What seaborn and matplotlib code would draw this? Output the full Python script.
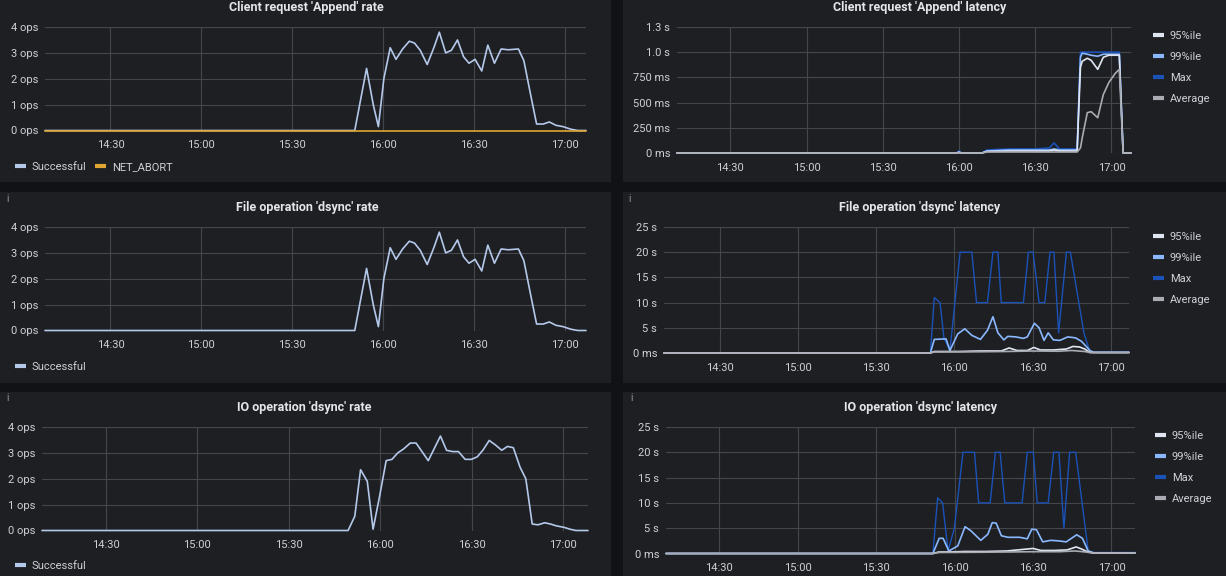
import matplotlib
matplotlib.use("Agg")
import matplotlib.pyplot as plt
from matplotlib.lines import Line2D
from matplotlib.patches import Rectangle
import seaborn as sns
import pandas as pd

# ---------------- data (time = minutes after 14:00) ----------------
tick_minutes = [30, 60, 90, 120, 150, 180]
tick_labels = ["14:30", "15:00", "15:30", "16:00", "16:30", "17:00"]

rate_ticks = [0, 1, 2, 3, 4]
rate_tick_labels = ["0 ops", "1 ops", "2 ops", "3 ops", "4 ops"]
append_lat_ticks = [0, 0.25, 0.5, 0.75, 1.0, 1.25]
append_lat_tick_labels = ["0 ms", "250 ms", "500 ms", "750 ms", "1.0 s", "1.3 s"]
dsync_lat_ticks = [0, 5, 10, 15, 20, 25]
dsync_lat_tick_labels = ["0 ms", "5 s", "10 s", "15 s", "20 s", "25 s"]

# Client request 'Append' rate / File operation 'dsync' rate (same shape)
rate_t = [8.4, 110.6, 114.5, 116.7, 118.4, 120.2, 122.3, 124.2, 126.4, 128.6, 130.3,
          132.2, 134.5, 136.7, 138.5, 140.6, 142.5, 144.5, 146.5, 148.3, 150.3, 152.5,
          154.5, 156.7, 158.9, 161.2, 164.6, 166.4, 168.6, 170.6, 172.8, 174.8, 177.0,
          179.3, 181.9, 184.2, 186.9]
rate_successful = [0, 0, 2.4, 1.0, 0.15, 2.0, 3.2, 2.75, 3.15, 3.45, 3.38,
                   3.1, 2.55, 3.2, 3.8, 3.0, 3.1, 3.5, 2.85, 2.6, 2.75, 2.3,
                   3.3, 2.6, 3.15, 3.12, 3.15, 2.7, 1.4, 0.25, 0.25, 0.33, 0.2,
                   0.15, 0.05, 0.0, 0.0]
net_abort_t = [8.4, 186.9]
net_abort = [0, 0]

# IO operation 'dsync' rate
io_t = [9.1, 109.5, 111.7, 113.6, 115.8, 117.7, 119.8, 122.0, 123.9, 125.8, 127.7,
        129.9, 131.8, 135.8, 139.8, 141.8, 143.8, 145.7, 147.9, 150.0, 151.9, 153.7,
        155.8, 157.9, 159.9, 161.8, 163.7, 165.9, 167.8, 169.9, 171.8, 174.0, 175.9,
        177.8, 180.4, 182.3, 184.2, 188.2]
io_successful = [0, 0, 0.55, 2.35, 1.9, 0.05, 1.3, 2.7, 2.75, 3.0, 3.15,
                 3.38, 3.38, 2.7, 3.65, 3.1, 3.05, 3.05, 2.75, 2.75, 2.85, 3.1,
                 3.48, 3.3, 3.1, 3.25, 3.2, 2.45, 2.0, 0.25, 0.22, 0.3, 0.25,
                 0.18, 0.12, 0.05, 0.0, 0.0]

# Client request 'Append' latency (seconds)
alat_t = [9.0, 119.0, 120.0, 121.0, 129.0, 131.0, 140.0, 150.0, 155.5, 157.4, 159.5,
          166.5, 167.8, 168.5, 170.5, 172.0, 174.6, 176.8, 179.0, 181.5, 183.1, 184.6, 187.7]
alat_max = [0, 0, 0.02, 0, 0, 0.03, 0.04, 0.04, 0.05, 0.10, 0.04,
            0.04, 1.0, 1.0, 1.0, 1.0, 1.0, 1.0, 1.0, 1.0, 1.0, 0.0, 0.0]
alat_p99 = [0, 0, 0.01, 0, 0, 0.02, 0.03, 0.03, 0.03, 0.04, 0.03,
            0.03, 0.95, 0.99, 0.98, 0.97, 0.96, 0.98, 0.98, 0.98, 0.98, 0.0, 0.0]
alat_p95 = [0, 0, 0.005, 0, 0, 0.015, 0.02, 0.02, 0.02, 0.03, 0.02,
            0.02, 0.85, 0.91, 0.94, 0.92, 0.83, 0.95, 0.97, 0.97, 0.97, 0.0, 0.0]
alat_avg = [0, 0, 0, 0, 0, 0.01, 0.01, 0.01, 0.01, 0.01, 0.01,
            0.01, 0.05, 0.15, 0.40, 0.41, 0.35, 0.58, 0.70, 0.79, 0.83, 0.0, 0.0]

# File operation 'dsync' latency (seconds)
fmax_t = [8.6, 110.8, 112.3, 114.5, 116.0, 118.3, 122.2, 126.7, 128.5, 132.7, 134.8,
          136.7, 138.0, 146.5, 148.4, 150.2, 152.5, 154.7, 156.7, 158.2, 160.0, 163.0,
          164.5, 169.7, 172.0, 187.0]
fmax = [0, 0, 11, 10, 3, 0.5, 20, 20, 10, 10, 20,
        20, 10, 10, 20, 20, 10, 10, 20, 20, 4, 20,
        20, 4, 0.2, 0.2]
f99_t = [8.6, 110.8, 112.3, 116.8, 118.3, 121.3, 124.0, 126.7, 130.0, 132.7, 134.8,
         136.7, 139.0, 140.5, 143.5, 146.5, 148.0, 150.7, 152.5, 154.4, 156.0, 158.0,
         160.5, 163.5, 166.5, 168.8, 172.0, 173.5, 187.0]
f99 = [0, 0, 2.7, 2.8, 0.5, 3.8, 4.8, 3.5, 2.7, 4.5, 7.2,
       4.0, 2.6, 3.3, 3.2, 2.9, 3.2, 5.9, 5.0, 2.5, 4.0, 2.6,
       2.5, 3.2, 3.0, 2.3, 0.5, 0.1, 0.1]
f95_t = [8.6, 110.8, 112.3, 118.3, 122.0, 130.0, 138.0, 141.0, 144.0, 148.0, 150.5,
         153.0, 158.0, 163.0, 165.5, 168.0, 170.0, 172.0, 187.0]
f95 = [0, 0, 0.3, 0.3, 0.3, 0.4, 0.4, 1.0, 0.5, 0.5, 1.1,
       0.6, 0.6, 0.8, 1.3, 1.2, 0.8, 0.1, 0.1]
favg_t = [8.6, 110.8, 112.3, 130.0, 140.0, 150.0, 160.0, 165.0, 170.0, 172.0, 187.0]
favg = [0, 0, 0.2, 0.25, 0.3, 0.4, 0.35, 0.5, 0.3, 0.1, 0.1]

# IO operation 'dsync' latency (seconds)
imax_t = [9.6, 111.7, 113.5, 115.4, 117.5, 119.9, 123.2, 127.6, 129.2, 133.6, 135.6,
          137.4, 139.2, 145.8, 147.8, 150.1, 151.6, 155.8, 157.9, 159.9, 161.8, 164.0,
          166.3, 171.1, 173.0, 189.0]
imax = [0, 0, 11, 10, 0.5, 5, 20, 20, 10, 10, 20,
        20, 10, 10, 20, 20, 10, 10, 20, 20, 5, 20,
        20, 0.5, 0.2, 0.2]
i99_t = [9.6, 111.7, 114.1, 115.6, 117.8, 121.2, 124.0, 126.2, 130.0, 132.7, 134.4,
         135.9, 137.9, 140.4, 144.9, 147.8, 149.5, 151.3, 153.7, 156.7, 159.7, 162.7,
         166.7, 168.9, 171.1, 173.4, 189.0]
i99 = [0, 0, 3.0, 3.0, 0.5, 1.5, 5.3, 4.5, 2.6, 3.8, 6.1,
       6.0, 3.5, 3.2, 3.2, 2.9, 4.8, 4.7, 2.3, 2.6, 2.5, 2.3,
       3.7, 3.0, 0.5, 0.1, 0.1]
i95_t = [9.6, 111.7, 114.0, 118.0, 124.0, 132.0, 140.0, 146.0, 150.0, 153.0, 158.0,
         163.0, 166.5, 168.5, 171.0, 173.0, 189.0]
i95 = [0, 0, 0.3, 0.3, 0.4, 0.4, 0.5, 0.8, 1.0, 0.6, 0.6,
       0.7, 1.3, 0.9, 0.3, 0.1, 0.1]
iavg_t = [9.6, 111.7, 114.0, 130.0, 140.0, 150.0, 160.0, 166.0, 170.0, 173.0, 189.0]
iavg = [0, 0, 0.2, 0.25, 0.3, 0.35, 0.35, 0.5, 0.3, 0.1, 0.1]

# ---------------- style ----------------
W, H = 1226, 576
BG = "#111216"
PANEL = "#1e1f23"
GRID = "#45464c"
TICK = "#cdd0d6"
TITLE = "#e4e5ea"
C_SUCC = "#b4c8ea"
C_ABORT = "#e0a532"
C_95 = "#dfe6f2"
C_99 = "#8ab8ff"
C_MAX = "#1a52b8"
C_AVG = "#a9abb2"

sns.set_theme(style="dark")
plt.rcParams["font.family"] = ["Roboto", "DejaVu Sans"]

fig = plt.figure(figsize=(W / 100, H / 100), dpi=100, facecolor=BG)


def fx(x):
    return x / W


def fy(y):
    return 1 - y / H


def add_panel(x0, y0, x1, y1):
    fig.add_artist(Rectangle((fx(x0), fy(y1)), (x1 - x0) / W, (y1 - y0) / H,
                             transform=fig.transFigure, facecolor=PANEL,
                             edgecolor="none", zorder=0))


def make_axes(x0, y0, x1, y1, xlim, ylim, yticks, yticklabels):
    ax = fig.add_axes([fx(x0), fy(y1), (x1 - x0) / W, (y1 - y0) / H])
    ax.set_facecolor("none")
    ax.set_xlim(*xlim)
    ax.set_ylim(*ylim)
    ax.set_xticks(tick_minutes)
    ax.set_xticklabels(tick_labels)
    ax.set_yticks(yticks)
    ax.set_yticklabels(yticklabels)
    ax.tick_params(axis="both", length=0, labelsize=8, colors=TICK)
    ax.tick_params(axis="x", pad=7)
    ax.tick_params(axis="y", pad=5)
    ax.grid(True, color=GRID, linewidth=0.8)
    ax.set_axisbelow(True)
    for s in ax.spines.values():
        s.set_visible(False)
    ax.set_xlabel("")
    ax.set_ylabel("")
    return ax


def line(ax, t, v, color, lw=1.2):
    df = pd.DataFrame({"t": t, "v": v})
    sns.lineplot(data=df, x="t", y="v", ax=ax, color=color, linewidth=lw,
                 legend=False, estimator=None, sort=False)
    for ln in ax.lines:
        ln.set_clip_on(False)
    ax.set_xlabel("")
    ax.set_ylabel("")


def title(x, y, s):
    fig.text(fx(x), fy(y), s, ha="center", va="center", color=TITLE,
             fontsize=9, fontweight="bold")


def legend(x, y, items, ncol=1):
    handles = [Line2D([0], [0], color=c, lw=3, solid_capstyle="butt") for _, c in items]
    labels = [l for l, _ in items]
    leg = fig.legend(handles, labels, loc="upper left",
                     bbox_to_anchor=(fx(x), fy(y)), bbox_transform=fig.transFigure,
                     frameon=False, ncol=ncol, fontsize=8, handlelength=1.0,
                     handletextpad=0.5, labelspacing=0.98, columnspacing=0.8,
                     borderpad=0, borderaxespad=0)
    for txt in leg.get_texts():
        txt.set_color(TICK)


def info(x, y):
    fig.text(fx(x), fy(y), "i", ha="center", va="center", color="#9a9ca2", fontsize=7)


# panels
add_panel(0, 0, 611, 182)
add_panel(623, 0, 1226, 182)
add_panel(0, 192, 611, 383)
add_panel(623, 192, 1226, 383)
add_panel(0, 392, 611, 576)
add_panel(623, 392, 1226, 576)

# ---- top left: Client request 'Append' rate
ax = make_axes(45, 27, 586, 130.5, (8.4, 186.9), (0, 4), rate_ticks, rate_tick_labels)
line(ax, rate_t, rate_successful, C_SUCC)
line(ax, net_abort_t, net_abort, C_ABORT)
title(306, 8, "Client request 'Append' rate")
legend(15, 162, [("Successful", C_SUCC), ("NET_ABORT", C_ABORT)], ncol=2)

# ---- top right: Client request 'Append' latency
ax = make_axes(677, 27, 1131, 153, (9.0, 187.7), (0, 1.25),
               append_lat_ticks, append_lat_tick_labels)
line(ax, alat_t, alat_max, C_MAX)
line(ax, alat_t, alat_p99, C_99)
line(ax, alat_t, alat_p95, C_95)
line(ax, alat_t, alat_avg, C_AVG)
title(920, 8, "Client request 'Append' latency")
legend(1153, 31, [("95%ile", C_95), ("99%ile", C_99), ("Max", C_MAX), ("Average", C_AVG)])

# ---- middle left: File operation 'dsync' rate
ax = make_axes(45, 227, 586, 330.5, (8.4, 186.9), (0, 4), rate_ticks, rate_tick_labels)
line(ax, rate_t, rate_successful, C_SUCC)
title(307, 207, "File operation 'dsync' rate")
legend(15, 362, [("Successful", C_SUCC)])
info(8, 199)

# ---- middle right: File operation 'dsync' latency
ax = make_axes(664, 227, 1129, 353, (8.6, 187.0), (0, 25),
               dsync_lat_ticks, dsync_lat_tick_labels)
line(ax, fmax_t, fmax, C_MAX, lw=1.0)
line(ax, f99_t, f99, C_99)
line(ax, f95_t, f95, C_95)
line(ax, favg_t, favg, C_AVG)
title(920, 207, "File operation 'dsync' latency")
legend(1153, 232, [("95%ile", C_95), ("99%ile", C_99), ("Max", C_MAX), ("Average", C_AVG)])
info(630, 199)

# ---- bottom left: IO operation 'dsync' rate
ax = make_axes(42, 427, 588, 530.5, (9.1, 188.2), (0, 4), rate_ticks, rate_tick_labels)
line(ax, io_t, io_successful, C_SUCC)
title(304, 407, "IO operation 'dsync' rate")
legend(15, 561, [("Successful", C_SUCC)])
info(8, 398)

# ---- bottom right: IO operation 'dsync' latency
ax = make_axes(666, 427, 1135, 553.5, (9.6, 189.0), (0, 25),
               dsync_lat_ticks, dsync_lat_tick_labels)
line(ax, imax_t, imax, C_MAX, lw=1.0)
line(ax, i99_t, i99, C_99)
line(ax, i95_t, i95, C_95)
line(ax, iavg_t, iavg, C_AVG)
title(920, 407, "IO operation 'dsync' latency")
legend(1155, 431, [("95%ile", C_95), ("99%ile", C_99), ("Max", C_MAX), ("Average", C_AVG)])
info(632, 398)

fig.savefig("out.png", dpi=100, facecolor=BG)
